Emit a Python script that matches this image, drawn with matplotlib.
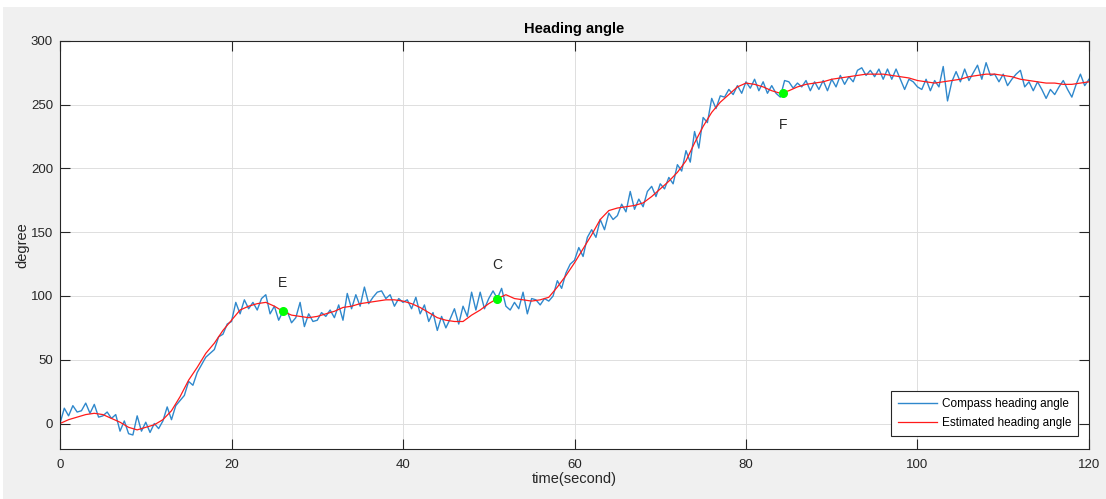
import numpy as np
import matplotlib
matplotlib.use("Agg")
import matplotlib.pyplot as plt
from matplotlib.patches import Rectangle

plt.rcParams['font.family'] = ['Liberation Sans', 'DejaVu Sans']

# Compass heading (deg), sampled every 0.5 s from t = 0 to 120 s
compass_t = np.arange(0, 120.01, 0.5)
compass_heading = [
    0, 12, 6, 14, 9, 10, 16, 8, 15, 5, 6, 9, 4, 7, -6, 2, -8, -9, 6, -6,
    1, -7, 0, -4, 2, 13, 3, 14, 18, 22, 33, 30, 40, 46, 52, 55, 58, 68, 70, 78,
    80,
    95, 86, 97, 90, 95, 89, 98, 101, 86, 92, 81, 88, 88, 79, 83, 95, 76, 86, 80, 81,
    87, 84, 89, 83, 93, 81, 102, 90, 101, 92, 107, 94, 99, 103, 104, 98, 101, 92, 98, 95,
    97, 90, 99, 86, 93, 80, 87, 73, 84, 75, 82, 90, 78, 92, 84, 103, 89, 103, 90, 98,
    104, 98, 106, 92, 89, 95, 90, 103, 86, 98, 97, 93, 98, 96, 100, 112, 106, 118, 125, 128,
    138, 131, 146, 152, 146, 160, 152, 165, 160, 163, 172, 166, 182, 168, 176, 170, 182, 186, 178, 188,
    184, 193, 188, 203, 198, 214, 205, 229, 216, 240, 236, 255, 247, 257, 256, 262, 258, 265, 259, 268,
    263, 270, 261, 268, 259, 265, 259, 256, 269, 268, 263, 267, 264, 269, 261, 268, 262, 269, 261, 270,
    264, 273, 266, 272, 268, 277, 279, 273, 277, 272, 278, 270, 278, 270, 278, 270, 262, 270, 268, 264,
    262, 270, 261, 269, 264, 280, 253, 268, 276, 268, 278, 269, 275, 281, 270, 283, 273, 274, 268, 274,
    265, 270, 274, 277, 264, 268, 261, 268, 262, 255, 262, 258, 264, 269, 262, 256, 266, 274, 265, 270,
]

# Filtered (estimated) heading (deg), one value per second
estimated_t = np.arange(0, 121, 1)
estimated_heading = [
    0, 3, 5, 7, 8, 7, 4, 1, -3, -5, -3, -1, 3, 10, 21, 34, 44, 55, 63, 73,
    81, 89, 92, 94, 95, 92, 88, 85, 84, 83, 84, 86, 88, 91, 92, 94, 95, 96, 97, 97,
    96, 94, 91, 87, 83, 81, 80, 80, 85, 89, 94, 98, 101, 98, 97, 96, 97, 99, 107, 116,
    126, 137, 148, 160, 167, 169, 170, 171, 173, 178, 184, 190, 197, 206, 220, 233, 244, 252, 258, 264,
    267, 266, 264, 261, 259, 261, 264, 266, 267, 268, 270, 271, 272, 273, 274, 274, 274, 273, 272, 271,
    269, 268, 267, 268, 269, 270, 272, 273, 274, 274, 273, 272, 270, 269, 268, 267, 267, 266, 266, 267,
    268,
]

# Marked points on the estimated track
point_labels = ['E', 'C', 'F']
point_t = [26.0, 51.0, 84.3]
point_heading = [88, 98, 259]
label_heading = [110, 124, 234]

fig = plt.figure(figsize=(11.06, 4.99), dpi=100, facecolor='#f0f0f0')
# thin white margin along the top and left edges of the window
fig.patches.append(Rectangle((0, 1 - 7 / 499), 1, 7 / 499, transform=fig.transFigure,
                             facecolor='white', edgecolor='none', zorder=-1))
fig.patches.append(Rectangle((0, 0), 3 / 1106, 1, transform=fig.transFigure,
                             facecolor='white', edgecolor='none', zorder=-1))

ax = fig.add_axes([60 / 1106, 50 / 499, 1029 / 1106, 408 / 499])
ax.set_facecolor('white')

ax.plot(compass_t, compass_heading, color='#2f88cc', lw=1.0, label='Compass heading angle')
ax.plot(estimated_t, estimated_heading, color='#ff1a1a', lw=0.9, label='Estimated heading angle')
ax.plot(point_t, point_heading, 'o', color='#00FF00', ms=5.5, mec='#00FF00', zorder=5)
for lab, tx, ty in zip(point_labels, point_t, label_heading):
    ax.text(tx, ty, lab, ha='center', va='center', fontsize=10, color='#262626')

ax.set_xlim(0, 120)
ax.set_ylim(-20, 300)
ax.set_xticks(np.arange(0, 121, 20))
ax.set_yticks(np.arange(0, 301, 50))
ax.grid(True, color='#dedede', lw=0.7)
ax.set_axisbelow(True)
ax.tick_params(direction='in', length=7, width=0.8, colors='#262626', labelsize=9.5,
               top=True, right=True)
ax.tick_params(axis='x', pad=7)
ax.tick_params(axis='y', pad=5)
for s in ax.spines.values():
    s.set_color('#262626')
    s.set_linewidth(0.8)

ax.set_title('Heading angle', fontsize=10.5, fontweight='bold', color='#000000', pad=6)
ax.set_xlabel('time(second)', fontsize=10.5, color='#262626', labelpad=1)
ax.set_ylabel('degree', fontsize=10.5, color='#262626', labelpad=1)

leg = ax.legend(loc='lower right', bbox_to_anchor=(1018 / 1029, 13 / 408), borderaxespad=0,
                fontsize=8.5, fancybox=False, framealpha=1, edgecolor='#262626',
                handlelength=3.3, handletextpad=0.4, borderpad=0.6, labelspacing=0.55)
leg.get_frame().set_linewidth(0.8)

fig.savefig('out.png', dpi=100, facecolor=fig.get_facecolor())
